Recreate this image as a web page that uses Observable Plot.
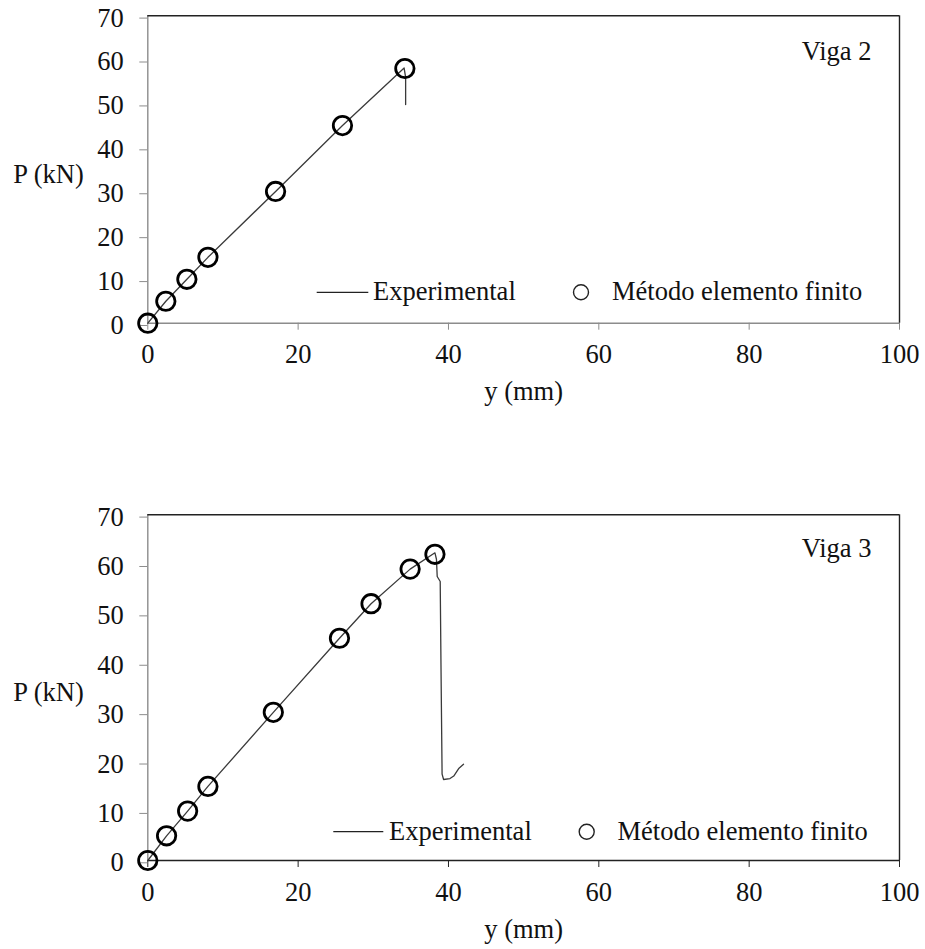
<!DOCTYPE html>
<html><head><meta charset="utf-8">
<script src="https://cdn.jsdelivr.net/npm/d3@7"></script>
<script src="https://cdn.jsdelivr.net/npm/@observablehq/plot@0.6"></script>
<style>body{margin:0;background:#fff} #c svg{display:block}</style>
</head><body><div id="c"></div><script>
// ---- data ----
const xTicks = [0, 20, 40, 60, 80, 100];
const yTicks = [0, 10, 20, 30, 40, 50, 60, 70];
const xLabel = "y (mm)";
const yLabel = "P (kN)";
const seriesNames = ["Experimental", "Método elemento finito"];

// Viga 2
const viga2FemY = [0, 2.4, 5.2, 8.0, 17.0, 25.9, 34.2];
const viga2FemP = [0, 5, 10, 15, 30, 45, 58];
const viga2ExpY = [0, 2.4, 5.2, 8.0, 17.0, 25.9, 34.1, 34.3, 34.3];
const viga2ExpP = [0, 5, 10, 15, 30, 45, 58.1, 56, 49.8];

// Viga 3
const viga3FemY = [0, 2.5, 5.3, 8.0, 16.7, 25.5, 29.7, 34.9, 38.2];
const viga3FemP = [0, 5, 10, 15, 30, 45, 52, 59, 62];
const viga3ExpY = [0, 2.5, 5.3, 8.0, 16.7, 25.5, 29.7, 34.9, 38.2, 38.4, 38.5, 38.9, 39.0, 39.15, 39.35, 40.2, 40.7, 41.4, 42.0];
const viga3ExpP = [0, 5, 10, 15, 30, 45, 52, 59, 62.3, 61, 57.5, 56.5, 40, 17.5, 16.4, 16.6, 17.1, 18.7, 19.5];

const FONT = '"Liberation Serif", "DejaVu Serif", serif';
const FS = 26.5;
const TXT = "#111";

function zip(a, b) { return a.map((v, i) => ({x: v, p: b[i]})); }

function makeChart({title, femY, femP, expY, expP, height, marginTop, marginBottom, bottomAxisColor, legendUp, titleDy}) {
  const fem = zip(femY, femP);
  const exp = zip(expY, expP);
  const marginLeft = 147.3, marginRight = 26, width = 925;
  const chart = Plot.plot({
    width, height, marginLeft, marginRight, marginTop, marginBottom,
    x: {domain: [0, 100]},
    y: {domain: [0, 70]},
    style: {fontFamily: FONT, fontSize: FS + "px", color: TXT, background: "#fff", overflow: "visible"},
    marks: [
      Plot.axisX({ticks: xTicks, tickSize: 7, tickPadding: 14.2, stroke: bottomAxisColor, fill: TXT, label: null, fontSize: FS, fontFamily: FONT}),
      Plot.axisY({ticks: yTicks, tickSize: 8, tickPadding: 16, stroke: "#8c8c8c", fill: TXT, label: null, dy: 2.3, fontSize: FS, fontFamily: FONT}),
      Plot.ruleY([0], {stroke: bottomAxisColor, strokeWidth: 1.4}),
      Plot.ruleX([0], {stroke: "#8c8c8c", strokeWidth: 1.4}),
      Plot.ruleY([70], {stroke: "#222", strokeWidth: 1.4}),
      Plot.ruleX([100], {stroke: "#222", strokeWidth: 1.4}),
      Plot.line(exp, {x: "x", y: "p", stroke: "#3a3a3a", strokeWidth: 1.3}),
      Plot.dot(fem, {x: "x", y: "p", r: 9.2, stroke: "#000", strokeWidth: 2.8, fill: "none"}),
      Plot.text([title], {frameAnchor: "top-right", dx: -28, dy: titleDy, textAnchor: "end", lineAnchor: "bottom", fill: TXT, fontSize: FS, fontFamily: FONT}),
      Plot.text([yLabel], {frameAnchor: "left", dx: -134.5, dy: 13, textAnchor: "start", lineAnchor: "bottom", fill: TXT, fontSize: FS, fontFamily: FONT}),
      Plot.text([xLabel], {frameAnchor: "bottom", dy: 77, textAnchor: "middle", lineAnchor: "bottom", fill: TXT, fontSize: FS, fontFamily: FONT})
    ]
  });
  // legend (layout only)
  const svg = d3.select(chart);
  const fb = height - marginBottom;
  const ly = fb - legendUp.line;
  const g = svg.append("g").attr("font-family", FONT).attr("font-size", FS).attr("fill", TXT).attr("text-anchor", "start");
  g.append("line").attr("x1", legendUp.lx1).attr("x2", legendUp.lx2).attr("y1", ly).attr("y2", ly)
    .attr("stroke", "#222").attr("stroke-width", 1.3);
  g.append("text").attr("x", legendUp.t1).attr("y", ly + 8).text(seriesNames[0]);
  g.append("circle").attr("cx", legendUp.cx).attr("cy", ly).attr("r", 7.5)
    .attr("fill", "none").attr("stroke", "#222").attr("stroke-width", 1.4);
  g.append("text").attr("x", legendUp.t2).attr("y", ly + 8).text(seriesNames[1]);
  return chart;
}

const c = document.getElementById("c");
c.append(makeChart({
  title: "Viga 2", femY: viga2FemY, femP: viga2FemP, expY: viga2ExpY, expP: viga2ExpP,
  height: 430, marginTop: 15.3, marginBottom: 107.3, bottomAxisColor: "#8c8c8c", titleDy: 44,
  legendUp: {line: 30.4, lx1: 316.7, lx2: 368.3, t1: 373, cx: 581, t2: 612}
}));
c.append(makeChart({
  title: "Viga 3", femY: viga3FemY, femP: viga3FemP, expY: viga3ExpY, expP: viga3ExpP,
  height: 519, marginTop: 84.3, marginBottom: 89, bottomAxisColor: "#222", titleDy: 42,
  legendUp: {line: 28.3, lx1: 333.3, lx2: 383.3, t1: 389, cx: 586.7, t2: 617.5}
}));
</script></body></html>
